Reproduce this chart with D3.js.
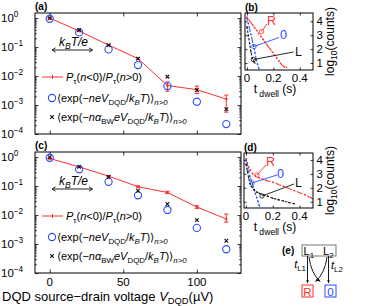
<!DOCTYPE html>
<html><head><meta charset="utf-8">
<script src="https://cdn.jsdelivr.net/npm/d3@7"></script>
<style>
body{margin:0;background:#fff}
svg{display:block}
text{font-family:"Liberation Sans",Arial,Helvetica,sans-serif;fill:#000}
</style>
</head><body>
<svg id="fig" width="372" height="306"></svg>
<script>
// ---------------- data ----------------
const voltages = [0, 20, 40, 60, 80, 100, 120];
const xTicks = [0, 50, 100];
const yDecades = [1e-4, 1e-3, 1e-2, 1e-1, 1];
const yDecadeExp = ["\u22124", "\u22123", "\u22122", "\u22121", "0"];

// panel (a)
const ratioA   = [1.0, 0.36, 0.117, 0.040, 0.0047, 0.0034, 0.0016];
const ratioALo = [0.93, 0.34, 0.110, 0.037, 0.0030, 0.0025, 0.00057];
const ratioAHi = [1.07, 0.38, 0.124, 0.043, 0.0062, 0.0045, 0.0022];
const expA     = [0.95, 0.32, 0.083, 0.024, 0.0045, 0.0013, 0.00022];
const expBWA   = [1.0, 0.39, 0.117, 0.040, 0.0095, 0.0033, 0.00072];

// panel (c)
const ratioC   = [0.90, 0.46, 0.22, 0.095, 0.060, 0.019, 0.0073];
const ratioCLo = [0.86, 0.44, 0.21, 0.088, 0.055, 0.017, 0.0057];
const ratioCHi = [0.94, 0.48, 0.23, 0.102, 0.066, 0.021, 0.0108];
const expC     = [0.95, 0.38, 0.14, 0.048, 0.015, 0.0036, 0.00066];
const expBWC   = [1.0, 0.46, 0.21, 0.069, 0.024, 0.0067, 0.0013];

// panel (b) dwell-time histograms  (t in s, log10 counts)
const bTicksX = [0, 0.2, 0.4];
const bTicksY = [1, 2, 3, 4];
const bRedT = [0.0, 0.015, 0.03, 0.045, 0.06, 0.075, 0.09, 0.105, 0.12, 0.135, 0.15, 0.165, 0.18, 0.195, 0.21, 0.225, 0.24, 0.255, 0.27, 0.285, 0.3];
const bRedC = [4.3, 4.1, 3.9, 3.72, 3.5, 3.32, 3.1, 2.92, 2.72, 2.52, 2.33, 2.14, 1.95, 1.75, 1.55, 1.36, 1.17, 0.98, 0.82, 0.72, 0.68];
const bBlueT = [0.0, 0.01, 0.02, 0.03, 0.04, 0.05, 0.06, 0.07, 0.08, 0.09];
const bBlueC = [4.2, 3.85, 3.45, 3.05, 2.65, 2.2, 1.75, 1.3, 0.9, 0.6];
const bBlackT = [0.0, 0.01, 0.02, 0.03, 0.04, 0.05, 0.06];
const bBlackC = [3.6, 3.0, 2.4, 1.8, 1.35, 1.1, 1.0];

// panel (d)
const dRedT = [0.0, 0.01, 0.02, 0.03, 0.05, 0.07, 0.1, 0.13, 0.16, 0.2, 0.24, 0.28, 0.32, 0.36, 0.4, 0.44, 0.48, 0.5];
const dRedC = [4.1, 3.8, 3.5, 3.3, 3.0, 2.85, 2.7, 2.6, 2.5, 2.4, 2.25, 2.1, 1.95, 1.8, 1.65, 1.5, 1.3, 1.2];
const dBlueT = [0.0, 0.01, 0.02, 0.03, 0.04, 0.05, 0.06, 0.07, 0.08, 0.09, 0.1];
const dBlueC = [4.0, 3.6, 3.2, 2.8, 2.5, 2.2, 1.9, 1.6, 1.3, 1.0, 0.7];
const dBlackT = [0.0, 0.01, 0.02, 0.03, 0.04, 0.06, 0.08, 0.1, 0.13, 0.16, 0.2, 0.24, 0.28, 0.32, 0.36];
const dBlackC = [3.7, 3.2, 2.7, 2.3, 2.1, 1.85, 1.7, 1.6, 1.5, 1.4, 1.25, 1.15, 1.05, 0.95, 0.85];

// ---------------- style ----------------
const RED = "#ff2f2f", BLUE = "#2b4cff", BLACK = "#111";
const svg = d3.select("#fig");

// rich text helper: parts = [[text, flags]]  flags: i=italic, b=sub, p=sup
function rich(g, x, y, parts, size, anchor, color) {
  const t = g.append("text").attr("x", x).attr("y", y)
    .attr("font-size", size).attr("text-anchor", anchor || "start")
    .style("fill", color || "#000");
  let off = 0;
  parts.forEach(([txt, f]) => {
    f = f || "";
    const ts = t.append("tspan").text(txt);
    let target = 0, fs = size;
    if (f.includes("b")) { target = size * 0.3; fs = size * 0.72; }
    if (f.includes("p")) { target = -size * 0.42; fs = size * 0.72; }
    ts.attr("font-size", fs);
    if (target !== off) { ts.attr("dy", target - off); off = target; }
    if (f.includes("i")) ts.attr("font-style", "italic");
  });
  return t;
}

function crossMark(g, x, y, s, color) {
  g.append("path").attr("d", `M${x-s},${y-s}L${x+s},${y+s}M${x-s},${y+s}L${x+s},${y-s}`)
    .attr("stroke", color).attr("stroke-width", 1.1).attr("fill", "none");
}

// ---------------- main panels (a) and (c) ----------------
function mainPanel(top, bottom, ratio, lo, hi, ex, exBW, label, showX) {
  const left = 35, right = 241;
  const x = d3.scaleLinear().domain([-10, 130]).range([left, right]);
  const y = d3.scaleLog().domain([1e-4, 1.5]).range([bottom, top]);
  const g = svg.append("g");

  const minors = [];
  [1e-4, 1e-3, 1e-2, 1e-1, 1].forEach(d => { for (let k = 2; k <= 9; k++) if (d * k <= 1.5) minors.push(d * k); });
  g.append("g").attr("transform", `translate(${left},0)`)
    .call(d3.axisLeft(y).tickValues(minors).tickSize(-1.8).tickFormat(""))
    .call(a => a.select(".domain").remove());
  g.append("g").attr("transform", `translate(${right},0)`)
    .call(d3.axisRight(y).tickValues(minors).tickSize(-1.8).tickFormat(""))
    .call(a => a.select(".domain").remove());
  g.append("g").attr("transform", `translate(${left},0)`)
    .call(d3.axisLeft(y).tickValues(yDecades).tickSize(-3.5).tickFormat(""))
    .call(a => a.select(".domain").remove());
  g.append("g").attr("transform", `translate(${right},0)`)
    .call(d3.axisRight(y).tickValues(yDecades).tickSize(-3.5).tickFormat(""))
    .call(a => a.select(".domain").remove());
  g.append("g").attr("transform", `translate(0,${bottom})`)
    .call(d3.axisBottom(x).tickValues(xTicks).tickSize(-3.5).tickFormat(""))
    .call(a => a.select(".domain").remove());
  g.append("g").attr("transform", `translate(0,${top})`)
    .call(d3.axisTop(x).tickValues(xTicks).tickSize(-3.5).tickFormat(""))
    .call(a => a.select(".domain").remove());
  g.selectAll(".tick line").attr("stroke", "#000").attr("stroke-width", 0.8);

  yDecades.forEach((d, i) => {
    rich(g, 1, y(d) + 4.2, [["10"], [yDecadeExp[i], "p"]], 11.5);
  });
  if (showX) {
    xTicks.forEach(d => {
      g.append("text").attr("x", x(d)).attr("y", bottom + 13).attr("text-anchor", "middle")
        .attr("font-size", 11.5).text(d);
    });
  }

  g.append("rect").attr("x", left).attr("y", top).attr("width", right - left).attr("height", bottom - top)
    .attr("fill", "none").attr("stroke", "#000").attr("stroke-width", 1);

  const line = d3.line().x((d, i) => x(voltages[i])).y(d => y(d));
  g.append("path").attr("d", line(ratio)).attr("fill", "none").attr("stroke", RED).attr("stroke-width", 1);
  voltages.forEach((v, i) => {
    const cx = x(v);
    g.append("path").attr("d", `M${cx},${y(lo[i])}L${cx},${y(hi[i])}M${cx-2.2},${y(lo[i])}L${cx+2.2},${y(lo[i])}M${cx-2.2},${y(hi[i])}L${cx+2.2},${y(hi[i])}`)
      .attr("stroke", RED).attr("stroke-width", 1).attr("fill", "none");
    g.append("circle").attr("cx", cx).attr("cy", y(ratio[i])).attr("r", 1.2).attr("fill", RED);
  });
  ex.forEach((d, i) => g.append("circle").attr("cx", x(voltages[i])).attr("cy", y(d)).attr("r", 3.6)
    .attr("fill", "none").attr("stroke", BLUE).attr("stroke-width", 1.1));
  exBW.forEach((d, i) => crossMark(g, x(voltages[i]), y(d), 1.8, BLACK));

  const ay = top + 37;
  g.append("path").attr("d", `M${52},${ay}L${92.5},${ay}M${55.5},${ay-2.2}L${52},${ay}L${55.5},${ay+2.2}M${89},${ay-2.2}L${92.5},${ay}L${89},${ay+2.2}`)
    .attr("stroke", "#222").attr("stroke-width", 1).attr("fill", "none");
  rich(g, 73.5, top + 32.5, [["k", "i"], ["B", "ib"], ["T/e", "i"]], 12, "middle");

  const ly1 = top + 64, ly2 = top + 85, ly3 = top + 104;
  g.append("line").attr("x1", 42).attr("x2", 63).attr("y1", ly1).attr("y2", ly1).attr("stroke", RED).attr("stroke-width", 1);
  g.append("path").attr("d", `M52.5,${ly1-2}L52.5,${ly1+2}`).attr("stroke", RED);
  rich(g, 66, ly1 + 4, [["P", "i"], ["\u03c4", "b"], ["("], ["n", "i"], ["<0)/"], ["P", "i"], ["\u03c4", "b"], ["("], ["n", "i"], [">0)"]], 11);
  g.append("circle").attr("cx", 52).attr("cy", ly2).attr("r", 3.6).attr("fill", "none").attr("stroke", BLUE).attr("stroke-width", 1.1);
  rich(g, 57, ly2 + 4, [["\u27e8exp(\u2212"], ["neV", "i"], ["DQD", "b"], ["/"], ["k", "i"], ["B", "ib"], ["T", "i"], [")\u27e9"], ["n>0", "ib"]], 11);
  crossMark(g, 52, ly3, 1.8, BLACK);
  rich(g, 57, ly3 + 4, [["\u27e8exp(\u2212"], ["n\u03b1", "i"], ["BW", "b"], ["eV", "i"], ["DQD", "b"], ["/"], ["k", "i"], ["B", "ib"], ["T", "i"], [")\u27e9"], ["n>0", "ib"]], 11);

  g.append("text").attr("x", 35).attr("y", top - 3).attr("font-size", 10).attr("font-weight", "bold").text(label);
}

mainPanel(13, 134, ratioA, ratioALo, ratioAHi, expA, expBWA, "(a)", false);
mainPanel(152, 273, ratioC, ratioCLo, ratioCHi, expC, expBWC, "(c)", true);

rich(svg, 2, 300.5, [["DQD source\u2212drain voltage "], ["V", "i"], ["DQD", "b"], ["(\u00b5V)"]], 13);

// ---------------- small panels (b) and (d) ----------------
function smallPanel(left, right, top, bottom, yDom, series, ann, label) {
  const x = d3.scaleLinear().domain([-0.015, 0.5]).range([left, right]);
  const y = d3.scaleLinear().domain(yDom).range([bottom, top]);
  const g = svg.append("g");
  const clipId = "clip" + label.replace(/\W/g, "");
  g.append("clipPath").attr("id", clipId).append("rect").attr("x", left).attr("y", top)
    .attr("width", right - left).attr("height", bottom - top);

  g.append("g").attr("transform", `translate(0,${bottom})`)
    .call(d3.axisBottom(x).tickValues(bTicksX).tickSize(-2.5).tickFormat(""))
    .call(a => a.select(".domain").remove());
  g.append("g").attr("transform", `translate(0,${top})`)
    .call(d3.axisTop(x).tickValues(bTicksX).tickSize(-2.5).tickFormat(""))
    .call(a => a.select(".domain").remove());
  g.append("g").attr("transform", `translate(${right},0)`)
    .call(d3.axisRight(y).tickValues(bTicksY).tickSize(-2.5).tickFormat(""))
    .call(a => a.select(".domain").remove());
  g.append("g").attr("transform", `translate(${left},0)`)
    .call(d3.axisLeft(y).tickValues(bTicksY).tickSize(-2.5).tickFormat(""))
    .call(a => a.select(".domain").remove());
  g.selectAll(".tick line").attr("stroke", "#000").attr("stroke-width", 0.8);

  bTicksX.forEach(d => g.append("text").attr("x", x(d)).attr("y", bottom + 12).attr("text-anchor", "middle")
    .attr("font-size", 11.5).text(d === 0 ? "0" : d.toFixed(1)));
  bTicksY.forEach(d => g.append("text").attr("x", right + 3.5).attr("y", y(d) + 4).attr("font-size", 11.5).text(d));

  const plot = g.append("g").attr("clip-path", `url(#${clipId})`);
  series.forEach(s => {
    const ln = d3.line().x((d, i) => x(s.t[i])).y(d => y(d));
    plot.append("path").attr("d", ln(s.c)).attr("fill", "none").attr("stroke", s.color)
      .attr("stroke-width", 1.1).attr("stroke-dasharray", "2.2,1.6");
    s.c.forEach((d, i) => plot.append("circle").attr("cx", x(s.t[i])).attr("cy", y(d)).attr("r", 0.8).attr("fill", s.color));
  });

  g.append("rect").attr("x", left).attr("y", top).attr("width", right - left).attr("height", bottom - top)
    .attr("fill", "none").attr("stroke", "#000").attr("stroke-width", 1);

  ann.forEach(a => {
    g.append("line").attr("x1", a.x1).attr("y1", a.y1).attr("x2", a.x2).attr("y2", a.y2)
      .attr("stroke", a.color).attr("stroke-width", 0.9);
    g.append("circle").attr("cx", a.x2).attr("cy", a.y2).attr("r", 2.2).attr("fill", "none")
      .attr("stroke", a.color).attr("stroke-width", 0.8);
    g.append("text").attr("x", a.tx).attr("y", a.ty).attr("font-size", 12.5).style("fill", a.color).text(a.text);
  });

  g.append("text").attr("x", left).attr("y", top - 2).attr("font-size", 10).attr("font-weight", "bold").text(label);
  rich(g, 275, bottom + 23, [["t"], [" dwell", "b"], [" (s)"]], 12, "middle");
  g.append("text").attr("transform", `translate(334,${(top + bottom) / 2}) rotate(-90)`)
    .attr("text-anchor", "middle").attr("font-size", 12)
    .call(t => { t.append("tspan").text("log"); t.append("tspan").attr("font-size", 8.5).attr("dy", 2.5).text("10");
                 t.append("tspan").attr("dy", -2.5).text("(counts)"); });
}

smallPanel(245, 313, 13, 70, [0.5, 4.6], [
  { t: bRedT, c: bRedC, color: RED },
  { t: bBlueT, c: bBlueC, color: BLUE },
  { t: bBlackT, c: bBlackC, color: BLACK }
], [
  { text: "R", color: RED, tx: 267, ty: 25, x1: 267, y1: 24, x2: 261.5, y2: 31.5 },
  { text: "0", color: BLUE, tx: 280, ty: 39, x1: 279, y1: 37.5, x2: 254, y2: 46.5 },
  { text: "L", color: BLACK, tx: 295, ty: 56, x1: 293.5, y1: 52, x2: 253.5, y2: 59.5 }
], "(b)");

smallPanel(244, 313, 153, 208, [0.55, 4.5], [
  { t: dRedT, c: dRedC, color: RED },
  { t: dBlueT, c: dBlueC, color: BLUE },
  { t: dBlackT, c: dBlackC, color: BLACK }
], [
  { text: "R", color: RED, tx: 266, ty: 166, x1: 266, y1: 165, x2: 257, y2: 175 },
  { text: "0", color: BLUE, tx: 277, ty: 178, x1: 277, y1: 175, x2: 252, y2: 183 },
  { text: "L", color: BLACK, tx: 295, ty: 187, x1: 294, y1: 184, x2: 262, y2: 196 }
], "(d)");

// ---------------- panel (e) diagram ----------------
const ge = svg.append("g");
ge.append("text").attr("x", 282).attr("y", 254).attr("font-size", 10).attr("font-weight", "bold").text("(e)");
ge.append("rect").attr("x", 302).attr("y", 245).attr("width", 34).attr("height", 11)
  .attr("fill", "none").attr("stroke", "#777").attr("stroke-width", 1);
rich(ge, 303.5, 254.5, [["L"], ["1", "b"]], 11);
rich(ge, 323, 254.5, [["L"], ["2", "b"]], 11);
const arrowHead = (x, y, ang) => {
  const s = 3;
  const a1 = ang + Math.PI * 0.85, a2 = ang - Math.PI * 0.85;
  return `M${x},${y}L${x + s * Math.cos(a1)},${y + s * Math.sin(a1)}L${x + s * Math.cos(a2)},${y + s * Math.sin(a2)}Z`;
};
[[307.5, 256, 307.5, 283], [328.5, 256, 328.5, 283]].forEach(([x1, y1, x2, y2]) => {
  ge.append("line").attr("x1", x1).attr("y1", y1).attr("x2", x2).attr("y2", y2).attr("stroke", "#000").attr("stroke-width", 0.9);
  ge.append("path").attr("d", arrowHead(x2, y2, Math.PI / 2)).attr("fill", "#000");
});
ge.append("path").attr("d", "M309,257Q311,273 320,281.5").attr("fill", "none").attr("stroke", "#000").attr("stroke-width", 0.9);
ge.append("path").attr("d", arrowHead(320, 281.5, Math.atan2(8.5, 9))).attr("fill", "#000");
ge.append("path").attr("d", "M327,257Q325,273 315.5,281.5").attr("fill", "none").attr("stroke", "#000").attr("stroke-width", 0.9);
ge.append("path").attr("d", arrowHead(315.5, 281.5, Math.atan2(8.5, -9.5))).attr("fill", "#000");
rich(ge, 306, 268, [["t", "i"], ["L1", "b"]], 11, "end");
rich(ge, 331, 269, [["t", "i"], ["L2", "b"]], 11);
ge.append("rect").attr("x", 302).attr("y", 285).attr("width", 11).attr("height", 12).attr("fill", "none").attr("stroke", RED).attr("stroke-width", 1);
ge.append("text").attr("x", 307.5).attr("y", 295.5).attr("text-anchor", "middle").attr("font-size", 11.5).style("fill", RED).text("R");
ge.append("rect").attr("x", 325).attr("y", 285).attr("width", 11).attr("height", 12).attr("fill", "none").attr("stroke", BLUE).attr("stroke-width", 1);
ge.append("text").attr("x", 330.5).attr("y", 295.5).attr("text-anchor", "middle").attr("font-size", 11.5).style("fill", BLUE).text("0");
</script>
</body></html>
